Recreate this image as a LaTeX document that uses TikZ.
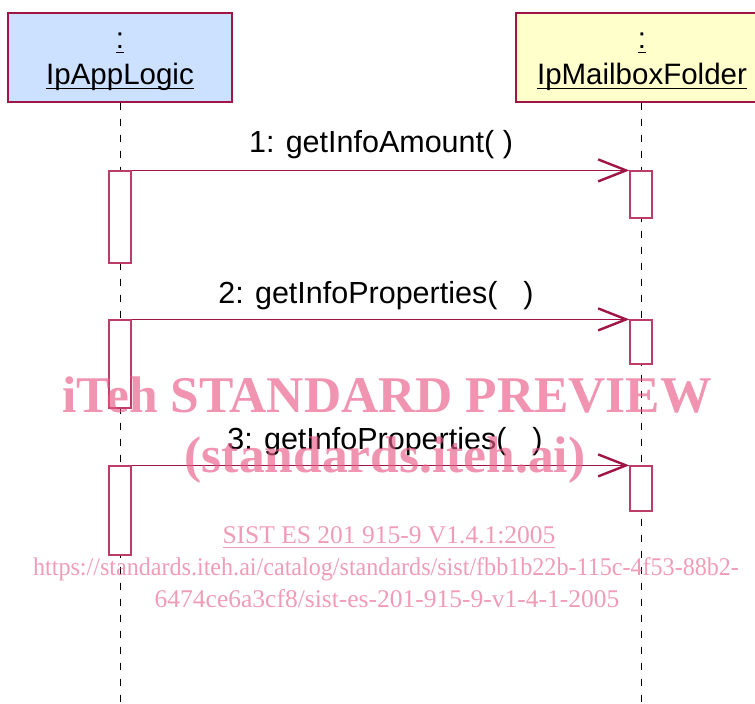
\documentclass[tikz,border=0pt]{standalone}
\usepackage{fontspec}
\usepackage{graphicx}
\setmainfont{Liberation Serif}
\setsansfont{Liberation Sans}
\usetikzlibrary{arrows.meta}
\definecolor{boxred}{RGB}{160,20,70}
\definecolor{barred}{RGB}{190,60,105}
\definecolor{logicblue}{RGB}{204,224,255}
\definecolor{folderyellow}{RGB}{255,255,204}
\definecolor{wmpink}{RGB}{232,90,135}
% underline drawn just under the baseline, through the descenders
\newcommand{\uln}[2][1.4pt]{\setbox0\hbox{#2}\rlap{\rule[-5pt]{\wd0}{#1}}\box0}
\begin{document}
\begin{tikzpicture}[x=1pt,y=-1pt,line width=1.2pt,
	objbox/.style={draw=boxred,minimum width=#1,minimum height=89pt,inner sep=0pt},
	objname/.style={font=\sffamily\fontsize{29.5}{36}\selectfont,align=center,inner sep=0pt},
	lifeline/.style={black,line width=0.9pt,dash pattern=on 7pt off 9pt},
	actbar/.style={draw=barred,fill=white,minimum width=22pt,inner sep=0pt},
	msg/.style={boxred,-{Straight Barb[length=28pt,width=22pt,line width=2.4pt]}},
	msglabel/.style={font=\sffamily\fontsize{30.5}{34}\selectfont,anchor=base,inner sep=0pt},
	wmbig/.style={font=\bfseries\fontsize{51.5}{51}\selectfont,text=wmpink,text opacity=0.65,anchor=base,inner sep=0pt},
	wmsmall/.style={font=\fontsize{25.5}{32}\selectfont,text=wmpink,text opacity=0.6,anchor=base,inner sep=0pt}]
	\useasboundingbox (0,0) rectangle (755,704);
	\clip (0,0) rectangle (755,704);
	% objects
	\node[objbox=224pt,fill=logicblue] (applogic) at (120,57.5) {};
	\node[objbox=250pt,fill=folderyellow] (folder) at (641,57.5) {};
	\node[objname] (applogic-name) at (120,61.5) {\uln{:}\\\uln{IpAppLogic}};
	\node[objname] (folder-name) at (642,61.5) {\uln{:}\\\uln{IpMailboxFolder}};
	% lifelines
	\coordinate (applogic-end) at (120,704);
	\coordinate (folder-end) at (641,704);
	\draw[lifeline] (applogic.south) -- (applogic-end);
	\draw[lifeline] (folder.south) -- (folder-end);
	% activations
	\foreach \name/\x/\ya/\yb in {la1/120/171/263,la2/120/320/408,la3/120/466/555,
		ra1/641/171/218,ra2/641/320/364,ra3/641/466/511}
	\node[actbar,minimum height=\yb pt-\ya pt] (\name) at (\x,{(\ya+\yb)/2}) {};
	% messages
	\foreach \i in {1,2,3}
	\draw[msg] (la\i.north east) -- (ra\i.north west);
	\node[msglabel] (msg1) at (381,152) {1: getInfoAmount( )};
	\node[msglabel] (msg2) at (376,303) {2: getInfoProperties(\hspace{26pt})};
	\node[msglabel] (msg3) at (385,449) {3: getInfoProperties(\hspace{26pt})};
	% watermark
	\node[wmbig] (wm1) at (387,412) {iTeh STANDARD PREVIEW};
	\node[wmbig] (wm2) at (385,472) {(standards.iteh.ai)};
	\node[wmsmall] (wm3) at (389,543) {\uln[1.2pt]{SIST ES 201 915-9 V1.4.1:2005}};
	\node[wmsmall] (wm4) at (386,575) {\scalebox{0.945}[1]{https://standards.iteh.ai/catalog/standards/sist/fbb1b22b-115c-4f53-88b2-}};
	\node[wmsmall] (wm5) at (387,607) {6474ce6a3cf8/sist-es-201-915-9-v1-4-1-2005};
\end{tikzpicture}
\end{document}
